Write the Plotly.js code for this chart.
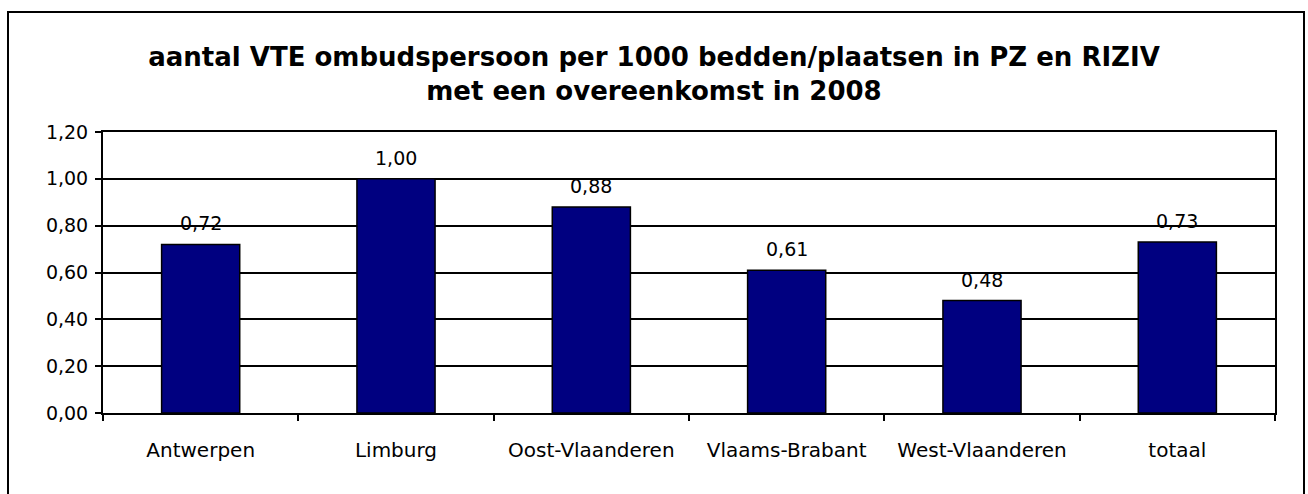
<!DOCTYPE html>
<html>
<head>
<meta charset="utf-8">
<script src="https://cdn.plot.ly/plotly-3.0.1.min.js"></script>
<style>html,body{margin:0;padding:0;background:#fff;}#chart{width:1308px;height:494px;}</style>
</head>
<body>
<div id="chart"></div>
<script>
const categories = ["Antwerpen", "Limburg", "Oost-Vlaanderen", "Vlaams-Brabant", "West-Vlaanderen", "totaal"];
const values = [0.72, 1.00, 0.88, 0.61, 0.48, 0.73];
const titleLines = ["aantal VTE ombudspersoon per 1000 bedden/plaatsen in PZ en RIZIV", "met een overeenkomst in 2008"];

const FONT = "DejaVu Sans, Verdana, sans-serif";
const W = 1308, H = 494;
const L = 103, R = 1275, T = 132, B = 413;

const trace = {
  type: "bar",
  x: categories,
  y: values,
  marker: {color: "#000080", line: {color: "#000000", width: 1.5}},
  hoverinfo: "skip"
};

const fmt = v => v.toFixed(2).replace(".", ",");
const labelAnnotations = categories.map((c, i) => ({
  x: c, y: values[i], xref: "x", yref: "y",
  text: fmt(values[i]),
  showarrow: false, yanchor: "bottom", xanchor: "center",
  yshift: 8,
  font: {family: FONT, size: 19, color: "#000"}
}));

const layout = {
  width: W, height: H,
  separators: ",.",
  paper_bgcolor: "#fff", plot_bgcolor: "#fff",
  margin: {l: L, r: W - R, t: T, b: H - B, pad: 0},
  bargap: 0.6,
  showlegend: false,
  font: {family: FONT, color: "#000"},
  title: {
    text: "<b>" + titleLines.join("<br>") + "</b>",
    font: {family: FONT, size: 26, color: "#000"},
    x: 0.5, xanchor: "center",
    y: 1 - 66 / H, yanchor: "top", yref: "container"
  },
  xaxis: {
    type: "category",
    showline: true, linecolor: "#000", linewidth: 2, mirror: true,
    ticks: "outside", tickson: "boundaries", ticklen: 6, tickwidth: 2, tickcolor: "#000",
    tickfont: {family: FONT, size: 20, color: "#000"},
    ticklabelstandoff: 18,
    showgrid: false, zeroline: false
  },
  yaxis: {
    range: [0, 1.2], dtick: 0.2, tick0: 0, tickformat: ".2f",
    showline: true, linecolor: "#000", linewidth: 2, mirror: true,
    ticks: "outside", ticklen: 6, tickwidth: 2, tickcolor: "#000",
    tickfont: {family: FONT, size: 19, color: "#000"},
    ticklabelstandoff: 3,
    showgrid: true, gridcolor: "#000", gridwidth: 2,
    zeroline: false
  },
  annotations: labelAnnotations,
  shapes: [{
    type: "rect", xref: "paper", yref: "paper",
    x0: (8 - L) / (R - L), x1: (1304 - L) / (R - L),
    y0: (B - 530) / (B - T), y1: (B - 12) / (B - T),
    line: {color: "#000", width: 2}, fillcolor: "rgba(0,0,0,0)", layer: "below"
  }]
};

Plotly.newPlot("chart", [trace], layout, {displayModeBar: false, staticPlot: true});
</script>
</body>
</html>
